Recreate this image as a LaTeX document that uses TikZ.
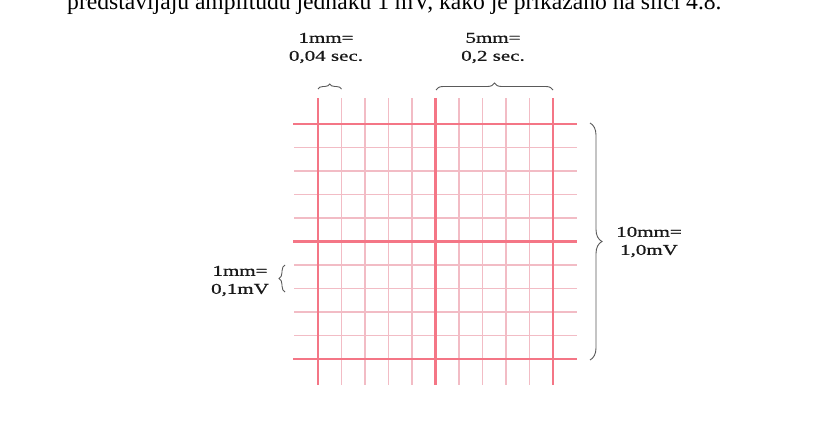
\documentclass[tikz,border=0pt]{standalone}
\usepackage{fontspec}
\setmainfont{Liberation Serif}
\newfontfamily\labfont[FakeStretch=1.4,FakeBold=0.9]{Liberation Serif}
\usetikzlibrary{decorations.pathreplacing}
\definecolor{thickred}{RGB}{244,118,134}
\definecolor{thinred}{RGB}{242,188,197}
\definecolor{bracegray}{RGB}{90,90,90}
\begin{document}
\begin{tikzpicture}[x=1pt,y=-1pt,
  lab/.style={font=\labfont\fontsize{15}{18}\selectfont, align=center, inner sep=0pt, text=black!90},
  thinline/.style={draw=thinred, line width=1.5pt},
  thickline/.style={draw=thickred, line width=2.6pt},
  bracestyle/.style={draw=bracegray, line width=0.9pt, decorate, decoration={brace, amplitude=#1}}]
\useasboundingbox (0,0) rectangle (828,439);
\fill[white] (0,0) rectangle (828,439);
% clipped sentence at the top
\node[anchor=base west, inner sep=0pt, font=\fontsize{23.6}{28}\selectfont] (sentence) at (67,9.5)
  {predstavljaju amplitudu jednaku 1 mV, kako je prikazano na slici 4.8.};
% grid: thin lines
\foreach \i in {1,2,3,4,6,7,8,9} {
  \draw[thinline] (318+23.5*\i,98) -- (318+23.5*\i,385);
  \draw[thinline] (294,124+23.5*\i) -- (577,124+23.5*\i);
}
% grid: thick lines
\foreach \i in {0,5,10} {
  \draw[thickline] (318+23.5*\i,98) -- (318+23.5*\i,385);
  \draw[thickline] (293,124+23.5*\i) -- (577,124+23.5*\i);
}
% braces
\coordinate (tA) at (318,89);
\coordinate (tB) at (341.5,89);
\coordinate (tC) at (436,90);
\coordinate (tD) at (553,90);
\coordinate (rA) at (590,123);
\coordinate (rB) at (590,360);
\coordinate (lA) at (285,292);
\coordinate (lB) at (285,265);
\draw[bracestyle=5pt] (tA) -- (tB);
\draw[bracestyle=7pt] (tC) -- (tD);
\draw[bracestyle=12pt] (rA) -- (rB);
\draw[bracestyle=6pt] (lA) -- (lB);
% labels
\node[lab] (l1) at (326,48) {1mm=\\0,04 sec.};
\node[lab] (l2) at (493,48) {5mm=\\0,2 sec.};
\node[lab] (l3) at (649,242) {10mm=\\1,0mV};
\node[lab] (l4) at (240,281) {1mm=\\0,1mV};
\end{tikzpicture}
\end{document}
